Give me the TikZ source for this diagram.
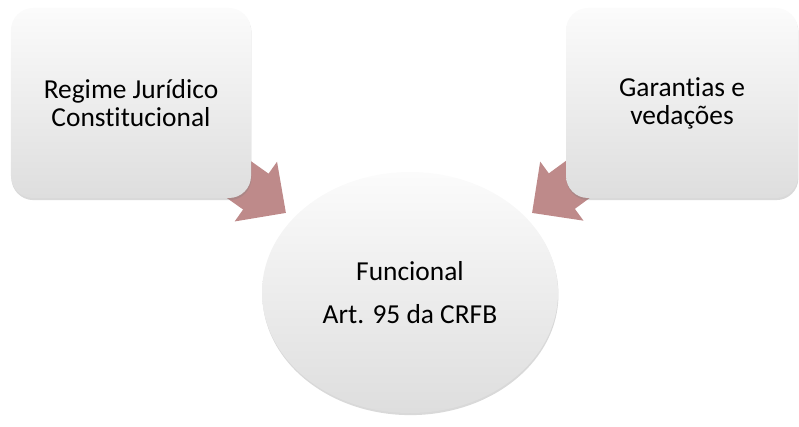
\documentclass[tikz,border=0pt]{standalone}
\usepackage{fontspec}
\setmainfont{Carlito}[Ligatures={NoCommon}]
\usetikzlibrary{arrows.meta,shadows,shapes.geometric,backgrounds}
\definecolor{arrowrose}{RGB}{190,138,138}

\begin{document}
\begin{tikzpicture}[
    topic/.style={shape=rectangle, rounded corners=0.55cm, minimum height=4.75cm, align=center,
        top color=gray!3, bottom color=gray!26,
        drop shadow={shadow xshift=0.3pt, shadow yshift=-1.5pt, opacity=0.3},
        font=\fontsize{19.5}{20}\selectfont},
    feed/.style={-{Triangle[width=1.775cm, length=0.925cm]}, line width=1.1cm, arrowrose}
]
    \useasboundingbox (0,0) rectangle (19.975,10.65);
    \node[topic, minimum width=6cm] (regime) at (3.275,8.075) {Regime Jurídico\\Constitucional};
    \node[topic, minimum width=5.8cm] (garantias) at (17.05,8.075) {Garantias e\\vedações};
    \node[shape=ellipse, minimum width=7.4cm, minimum height=6.025cm, inner sep=0pt, align=center,
        top color=gray!3, bottom color=gray!26,
        drop shadow={shadow xshift=0.3pt, shadow yshift=-1.5pt, opacity=0.3},
        font=\fontsize{19.5}{30.5}\selectfont] (funcional) at (10.25,3.3375) {Funcional\\Art. 95 da CRFB};
    \coordinate (ltip) at (7.15,5.325);
    \coordinate (rtip) at (13.3,5.325);
    \begin{pgfonlayer}{background}
        \draw[feed] (regime.center) -- (ltip);
        \draw[feed] (garantias.center) -- (rtip);
    \end{pgfonlayer}
\end{tikzpicture}
\end{document}
